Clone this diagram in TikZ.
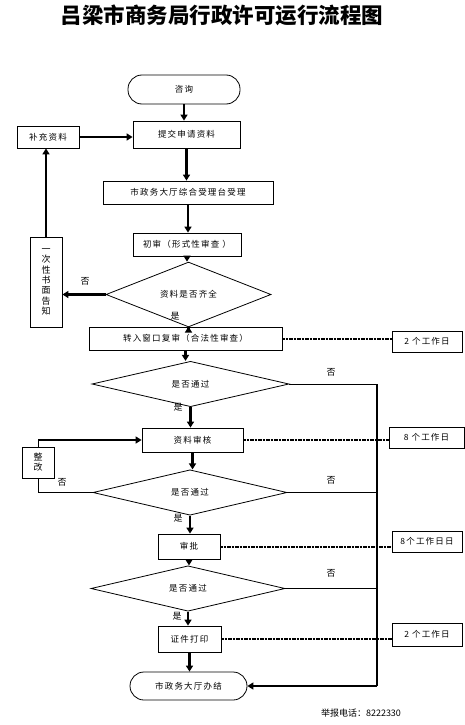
\documentclass[tikz,border=0pt]{standalone}
\usepackage{fontspec}
\setmainfont{Noto Sans CJK SC}
\newfontfamily\cjk[LetterSpace=14]{Noto Sans CJK SC}
\usetikzlibrary{arrows.meta,shapes.geometric}
\begin{document}
\begin{tikzpicture}[x=1pt,y=-1pt,
  box/.style={draw, line width=0.8pt, inner sep=0pt, font=\cjk\fontsize{8.5}{10}\selectfont},
  term/.style={box, rounded corners=14pt},
  dia/.style={draw, diamond, line width=0.8pt, inner sep=0pt, font=\cjk\fontsize{8.5}{10}\selectfont},
  lab/.style={inner sep=0pt, font=\fontsize{9}{10}\selectfont},
  arr/.style={line width=2.5pt, -{Triangle[length=6pt,width=7pt]}},
  ln/.style={line width=1pt},
  vln/.style={line width=1.4pt},
  dotln/.style={line width=2pt, dash pattern=on 1.1pt off 0.5pt},
]
\useasboundingbox (0,0) rectangle (465,725);
% title
\node[inner sep=0pt, font=\bfseries\fontsize{21.5}{22}\selectfont] (title) at (222,15) {吕梁市商务局行政许可运行流程图};
% nodes
\node[term, minimum width=112pt, minimum height=29pt] (zx) at (184,89.5) {咨询};
\node[box, minimum width=107pt, minimum height=27pt] (tj) at (186.5,134.5) {提交申请资料};
\node[box, minimum width=62pt, minimum height=22pt] (bc) at (48,137) {补充资料};
\node[box, minimum width=170pt, minimum height=23pt] (sl) at (188,192.5) {市政务大厅综合受理台受理};
\node[box, minimum width=108pt, minimum height=23pt] (cs) at (187,244.5) {初审（形式性审查 ）};
\node[dia, minimum width=165pt, minimum height=35pt] (d0) at (188.5,294.5) {资料是否齐全};
\node[box, minimum width=32pt, minimum height=90pt, align=center, font=\cjk\fontsize{9}{10.3}\selectfont] (gz) at (46,282) {一\\次\\性\\书\\面\\告\\知};
\node[box, minimum width=193pt, minimum height=23pt] (zr) at (185.5,338.5) {转入窗口复审（合法性审查）};
\node[box, minimum width=70pt, minimum height=21pt] (t1) at (427,341.5) {2 个工作日};
\node[dia, minimum width=197pt, minimum height=32pt] (d1) at (190.5,384) {是否通过};
\node[box, minimum width=101pt, minimum height=24pt] (zl) at (192.5,440) {资料审核};
\node[box, minimum width=75pt, minimum height=21pt] (t2) at (426.5,437.5) {8 个工作日};
\node[box, minimum width=32pt, minimum height=31pt, align=center, font=\cjk\fontsize{9}{10}\selectfont] (zg) at (38,462.5) {整\\改};
\node[dia, minimum width=194pt, minimum height=33pt] (d2) at (190,492.5) {是否通过};
\node[box, minimum width=62pt, minimum height=25pt] (sp) at (189,546.5) {审批};
\node[box, minimum width=70pt, minimum height=21pt] (t3) at (427,541.5) {8个工作日日};
\node[dia, minimum width=194pt, minimum height=33pt] (d3) at (188,588.5) {是否通过};
\node[box, minimum width=63pt, minimum height=26pt] (zj) at (189.5,639) {证件打印};
\node[box, minimum width=70pt, minimum height=23pt] (t4) at (427,634.5) {2 个工作日};
\node[term, minimum width=117pt, minimum height=28pt] (bj) at (188.5,686) {市政务大厅办结};
\node[lab] (tel) at (361,713) {举报电话：8222330};
% yes/no labels
\node[lab] (n0) at (85,281) {否};
\node[lab] (y0) at (175,316) {是};
\node[lab] (n1) at (331,372) {否};
\node[lab] (y1) at (178,407) {是};
\node[lab] (n2a) at (62,482) {否};
\node[lab] (n2b) at (331,480) {否};
\node[lab] (y2) at (178,518) {是};
\node[lab] (n3) at (331,573) {否};
\node[lab] (y3) at (177,616) {是};
\coordinate (vx) at (377,686);
% main flow arrows
\draw[arr] (zx.south) -- (zx.south |- tj.north);
\draw[arr] (tj.south) -- (tj.south |- sl.north);
\draw[arr] (sl.south) -- (sl.south |- cs.north);
\draw[arr] (cs.south) -- (cs.south |- d0.north);
\draw[arr] (d0.south) -- (d0.south |- zr.north);
\draw[arr] (zr.south) -- (zr.south |- d1.north);
\draw[arr] (d1.south) -- (d1.south |- zl.north);
\draw[arr] (zl.south) -- (zl.south |- d2.north);
\draw[arr] (d2.south) -- (d2.south |- sp.north);
\draw[arr] (sp.south) -- (sp.south |- d3.north);
\draw[arr] (d3.south) -- (d3.south |- zj.north);
\draw[arr] (zj.south) -- (zj.south |- bj.north);
% feedback loops
\draw[arr] (bc.east) -- (bc.east -| tj.west);
\draw[arr] (d0.west) -- (d0.west -| gz.east);
\draw[arr] (gz.north) -- (gz.north |- bc.south);
\draw[ln] (d2.west) -- (d2.west -| zg.south) -- (zg.south);
\draw[ln] (zg.north) -- (zg.north |- zl.west);
\draw[arr] (zg.north |- zl.west) -- (zl.west);
% rejection lines
\draw[ln] (d1.east) -- (d1.east -| vx);
\draw[vln] (d1.east -| vx) -- (vx);
\draw[ln] (d2.east) -- (d2.east -| vx);
\draw[ln] (d3.east) -- (d3.east -| vx);
\draw[arr] (vx) -- (bj.east);
% time limits
\draw[dotln] (zr.east) -- (zr.east -| t1.west);
\draw[dotln] (zl.east) -- (zl.east -| t2.west);
\draw[dotln] (sp.east) -- (sp.east -| t3.west);
\draw[dotln] (zj.east) -- (zj.east -| t4.west);
\end{tikzpicture}
\end{document}
